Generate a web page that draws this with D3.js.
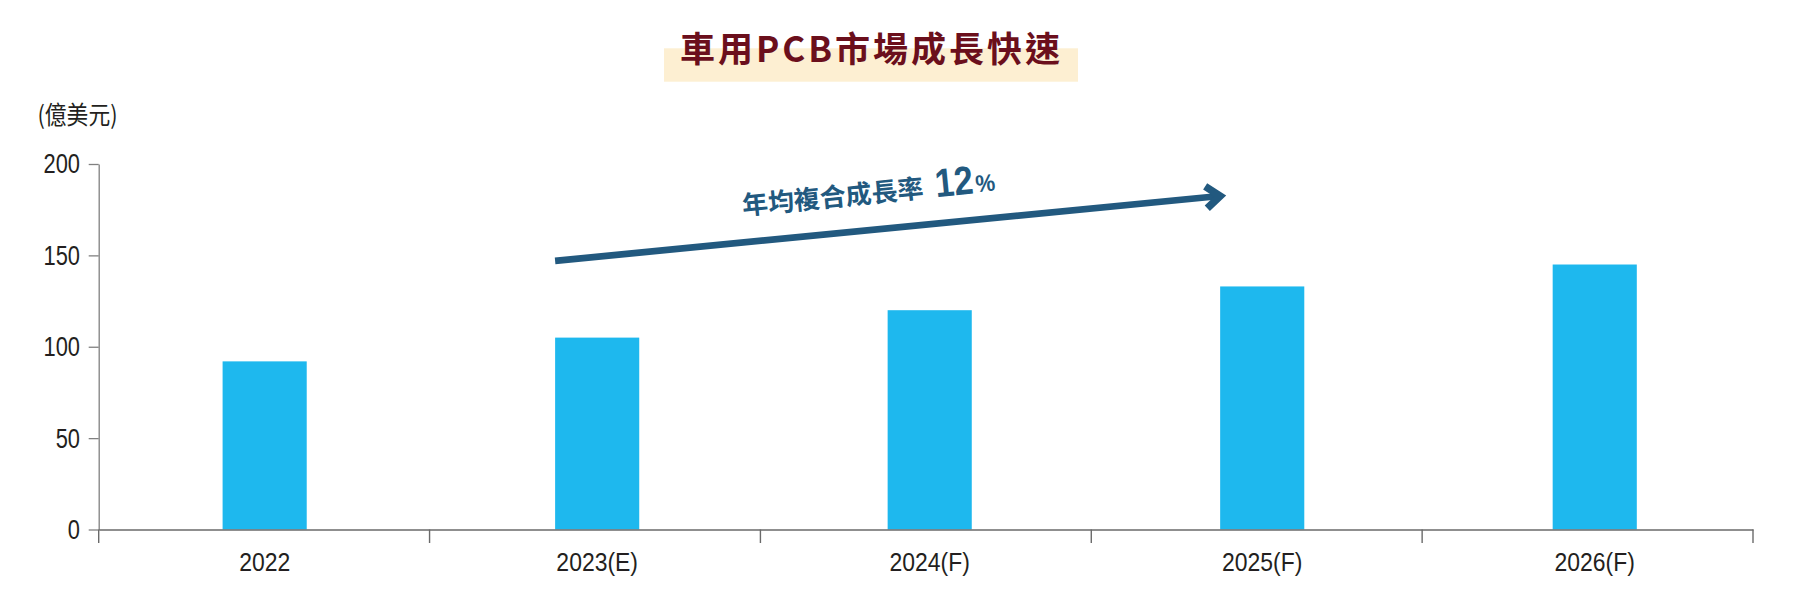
<!DOCTYPE html>
<html>
<head>
<meta charset="utf-8">
<script src="https://cdn.jsdelivr.net/npm/d3@7"></script>
<style>
  html, body { margin: 0; padding: 0; background: #ffffff; }
  svg { display: block; }
</style>
</head>
<body>
<svg id="chart" width="1800" height="600"></svg>
<script>
// ---- data ----
const categories = ["2022", "2023(E)", "2024(F)", "2025(F)", "2026(F)"];
const values = [92, 105, 120, 133, 145];
const yTicks = [0, 50, 100, 150, 200];
const titleText = "車用PCB市場成長快速";
const unitText = "(億美元)";
const cagrLabel = "年均複合成長率";
const cagrValue = "12";
const cagrUnit = "%";
// arrow annotation anchored to categories / values
const arrowFrom = { cat: "2023(E)", value: 147 };
const arrowTo = { cat: "2025(F)", value: 182.5 };

(function () {
// ---- layout ----
const svg = d3.select("#chart");
const mLeft = 98.7, mRight = 1753, mTop = 164, mBottom = 529.5;

// scale for axis tick boundaries
const x = d3.scaleBand().domain(categories).range([mLeft, mRight]).padding(0);
// scale for bar / label positions (slightly wider step in the original)
const xBar = d3.scaleBand().domain(categories).range([98.4, 1761]).padding(0);
const y = d3.scaleLinear().domain([0, 200]).range([mBottom, mTop]);
const barW = xBar.bandwidth() * 0.253;
const barX = d => xBar(d) + (xBar.bandwidth() - barW) / 2;

// title
const titleG = svg.append("g");
titleG.append("rect")
  .attr("x", 664).attr("y", 48.3).attr("width", 414).attr("height", 33.4)
  .attr("fill", "#fdefd2");
titleG.append("text")
  .attr("x", 871.5).attr("y", 62)
  .attr("text-anchor", "middle")
  .attr("font-family", "'Noto Sans CJK TC', 'Noto Sans CJK SC', sans-serif")
  .attr("font-weight", 700)
  .attr("font-size", 35)
  .attr("letter-spacing", 3)
  .attr("fill", "#6b0f1c")
  .text(titleText);

// unit label
svg.append("text")
  .attr("x", 37.5).attr("y", 123.5)
  .attr("font-family", "'Noto Sans CJK TC', sans-serif")
  .attr("font-size", 25)
  .attr("textLength", 80)
  .attr("lengthAdjust", "spacingAndGlyphs")
  .attr("fill", "#231f20")
  .text(unitText);

// bars
svg.append("g").selectAll("rect")
  .data(categories)
  .join("rect")
  .attr("x", d => barX(d))
  .attr("width", barW)
  .attr("y", (d, i) => y(values[i]))
  .attr("height", (d, i) => y(0) - y(values[i]))
  .attr("fill", "#1eb8ee");

// y axis
const ySx = 0.81;
const yAxis = svg.append("g")
  .attr("transform", `translate(${mLeft},0)`)
  .call(d3.axisLeft(y).tickValues(yTicks).tickSize(10).tickSizeOuter(0).tickPadding(8));
yAxis.select(".domain").attr("stroke", "#808080").attr("stroke-width", 1.3);
yAxis.selectAll(".tick line").attr("stroke", "#808080").attr("stroke-width", 1.3);
yAxis.selectAll(".tick text")
  .attr("x", -18.7 / ySx)
  .attr("dy", "0.33em")
  .attr("transform", `scale(${ySx},1)`)
  .attr("font-family", "'Liberation Sans', Arial, sans-serif")
  .attr("font-size", 27)
  .attr("fill", "#231f20");

// x axis line + boundary ticks
const xAxis = svg.append("g")
  .attr("transform", `translate(0,${mBottom})`)
  .call(d3.axisBottom(x).tickSize(0).tickSizeOuter(0).tickFormat(""));
xAxis.select(".domain").attr("stroke", "#6a6a6a").attr("stroke-width", 1.6);
const bounds = categories.map(d => x(d)).concat([x(categories[categories.length - 1]) + x.bandwidth()]);
xAxis.append("g").selectAll("line")
  .data(bounds)
  .join("line")
  .attr("x1", d => d).attr("x2", d => d)
  .attr("y1", 0).attr("y2", 13.5)
  .attr("stroke", "#6a6a6a").attr("stroke-width", 1.4);

// x labels centred under bars
const xSx = 0.9;
const xLab = svg.append("g")
  .attr("transform", `translate(0,${mBottom})`)
  .call(d3.axisBottom(xBar).tickSize(0).tickSizeOuter(0));
xLab.select(".domain").remove();
xLab.selectAll(".tick text")
  .attr("y", 41.5).attr("dy", 0)
  .attr("transform", `scale(${xSx},1)`)
  .attr("font-family", "'Liberation Sans', Arial, sans-serif")
  .attr("font-size", 25.5)
  .attr("fill", "#231f20");

// arrow annotation
const arrowColor = "#22597f";
const x1 = barX(arrowFrom.cat), y1 = y(arrowFrom.value);
const x2 = barX(arrowTo.cat), y2 = y(arrowTo.value);
const ang = Math.atan2(y2 - y1, x2 - x1);
const angDeg = ang * 180 / Math.PI;
svg.append("line")
  .attr("x1", x1).attr("y1", y1).attr("x2", x2 - 3 * Math.cos(ang)).attr("y2", y2 - 3 * Math.sin(ang))
  .attr("stroke", arrowColor).attr("stroke-width", 6.7);
const head = svg.append("g").attr("transform", `translate(${x2},${y2}) rotate(${angDeg})`);
head.append("path")
  .attr("d", d3.line()([[-14, -11], [0, 0], [-14, 11]]))
  .attr("fill", "none")
  .attr("stroke", arrowColor)
  .attr("stroke-width", 7.5)
  .attr("stroke-linejoin", "miter")
  .attr("stroke-miterlimit", 10);

// CAGR label, rotated along the arrow
const labG = svg.append("g")
  .attr("transform", `translate(743,215) rotate(${angDeg})`)
  .attr("fill", arrowColor)
  .attr("font-weight", 700);
const t1 = labG.append("text")
  .attr("font-family", "'Noto Sans CJK TC', sans-serif")
  .attr("font-size", 26)
  .text(cagrLabel);
const w1 = t1.node().getComputedTextLength();
const numSx = 0.86;
const t2x = w1 + 12;
const t2 = labG.append("text")
  .attr("transform", `translate(${t2x},1) scale(${numSx},1)`)
  .attr("font-family", "'Liberation Sans', Arial, sans-serif")
  .attr("font-size", 40)
  .text(cagrValue);
const w2 = t2.node().getComputedTextLength() * numSx;
labG.append("text")
  .attr("transform", `translate(${t2x + w2 + 2},0) scale(0.92,1)`)
  .attr("font-family", "'Liberation Sans', Arial, sans-serif")
  .attr("font-size", 24)
  .text(cagrUnit);
})();
</script>
</body>
</html>
